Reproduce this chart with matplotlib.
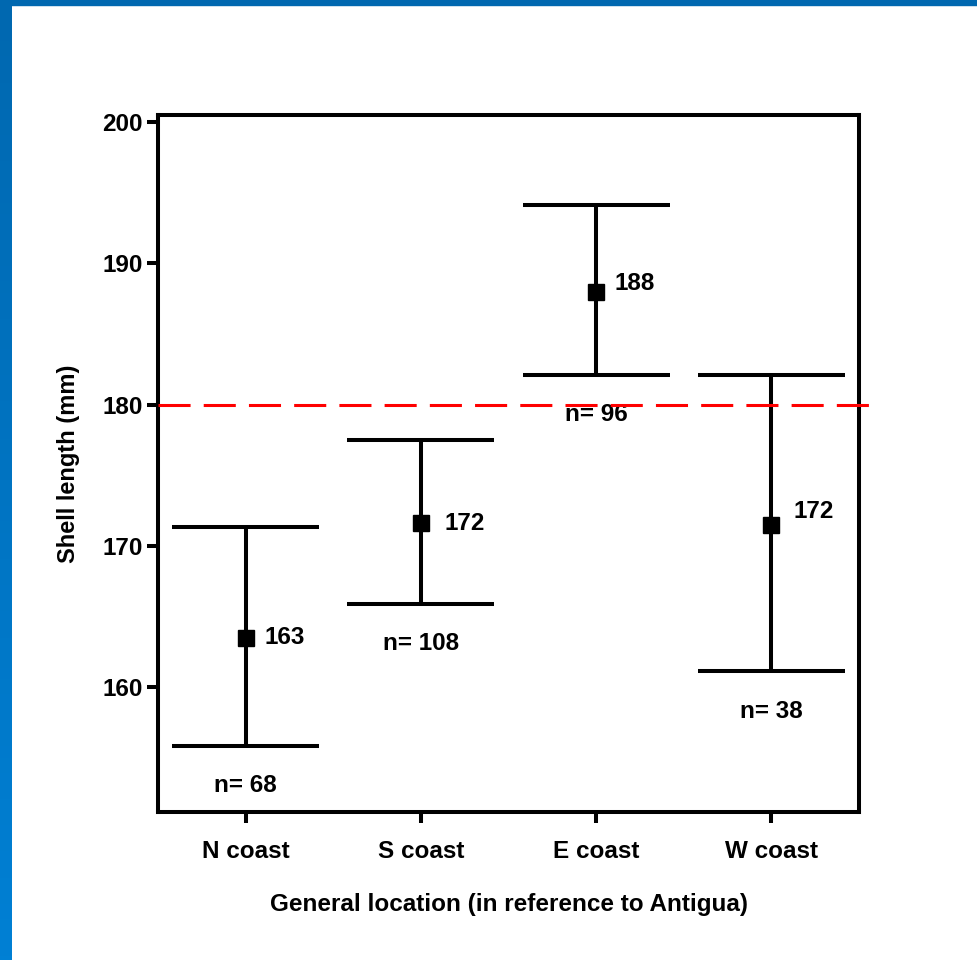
import matplotlib
matplotlib.use("Agg")
import matplotlib.pyplot as plt
import numpy as np
from matplotlib.patches import Rectangle

# data
locations = ["N coast", "S coast", "E coast", "W coast"]
means = [163.5, 171.6, 188.0, 171.5]
upper = [171.3, 177.5, 194.1, 182.1]
lower = [155.8, 165.9, 182.1, 161.1]
mean_labels = ["163", "172", "188", "172"]
n_labels = ["n= 68", "n= 108", "n= 96", "n= 38"]
threshold = 180

plt.rcParams["font.family"] = ["Liberation Sans", "DejaVu Sans"]
plt.rcParams["font.weight"] = "bold"

fig = plt.figure(figsize=(9.78, 9.6), dpi=100)

# blue slide frame (left and top strips)
frame = fig.add_axes([0, 0, 12 / 978, 1])
grad = np.linspace(0, 1, 256).reshape(-1, 1)
cmap = matplotlib.colors.LinearSegmentedColormap.from_list("fr", ["#0080d4", "#0068b0"])
frame.imshow(grad, aspect="auto", cmap=cmap, origin="lower", extent=[0, 1, 0, 1])
frame.axis("off")
fig.patches.append(Rectangle((0, 1 - 5 / 960), 1, 5 / 960, transform=fig.transFigure,
                             color="#0068b0", zorder=5))

ax = fig.add_axes([158 / 978, 1 - 812 / 960, 701 / 978, 697 / 960])
x = np.arange(len(locations))
lw = 2.9

for i in x:
    ax.plot([i, i], [lower[i], upper[i]], color="black", lw=lw, solid_capstyle="butt")
    for v in (lower[i], upper[i]):
        ax.plot([i - 0.42, i + 0.42], [v, v], color="black", lw=lw, solid_capstyle="butt")
    ax.plot(i, means[i], marker="s", color="black", ms=11, zorder=4)

label_dx = [0.11, 0.135, 0.105, 0.125]
label_dy = [0.0, 0.0, 0.6, 0.9]
for i in x:
    ax.text(i + label_dx[i], means[i] + label_dy[i], mean_labels[i], ha="left", va="center",
            fontsize=17.5, fontweight="bold")
    ax.text(i, lower[i] - 2.8, n_labels[i], ha="center", va="center",
            fontsize=17.5, fontweight="bold")

ax.plot([-0.5, 3.61], [threshold, threshold], color="#ff0000", lw=2.2,
        dashes=(10.5, 4.3), clip_on=False, zorder=5)

ax.set_xlim(-0.5, 3.5)
ax.set_ylim(151.15, 200.5)
ax.set_yticks([160, 170, 180, 190, 200])
ax.set_xticks(x)
ax.set_xticklabels(locations)
for sp in ax.spines.values():
    sp.set_linewidth(lw)
ax.tick_params(axis="both", width=lw, length=8, labelsize=17.5, direction="out")
ax.tick_params(axis="x", pad=12)
ax.tick_params(axis="y", pad=3)
for lab in ax.get_xticklabels() + ax.get_yticklabels():
    lab.set_fontweight("bold")

ax.set_ylabel("Shell length (mm)", fontsize=17, fontweight="bold", labelpad=16)
ax.set_xlabel("General location (in reference to Antigua)", fontsize=17.5,
              fontweight="bold", labelpad=22)

fig.savefig("out.png", dpi=100)
